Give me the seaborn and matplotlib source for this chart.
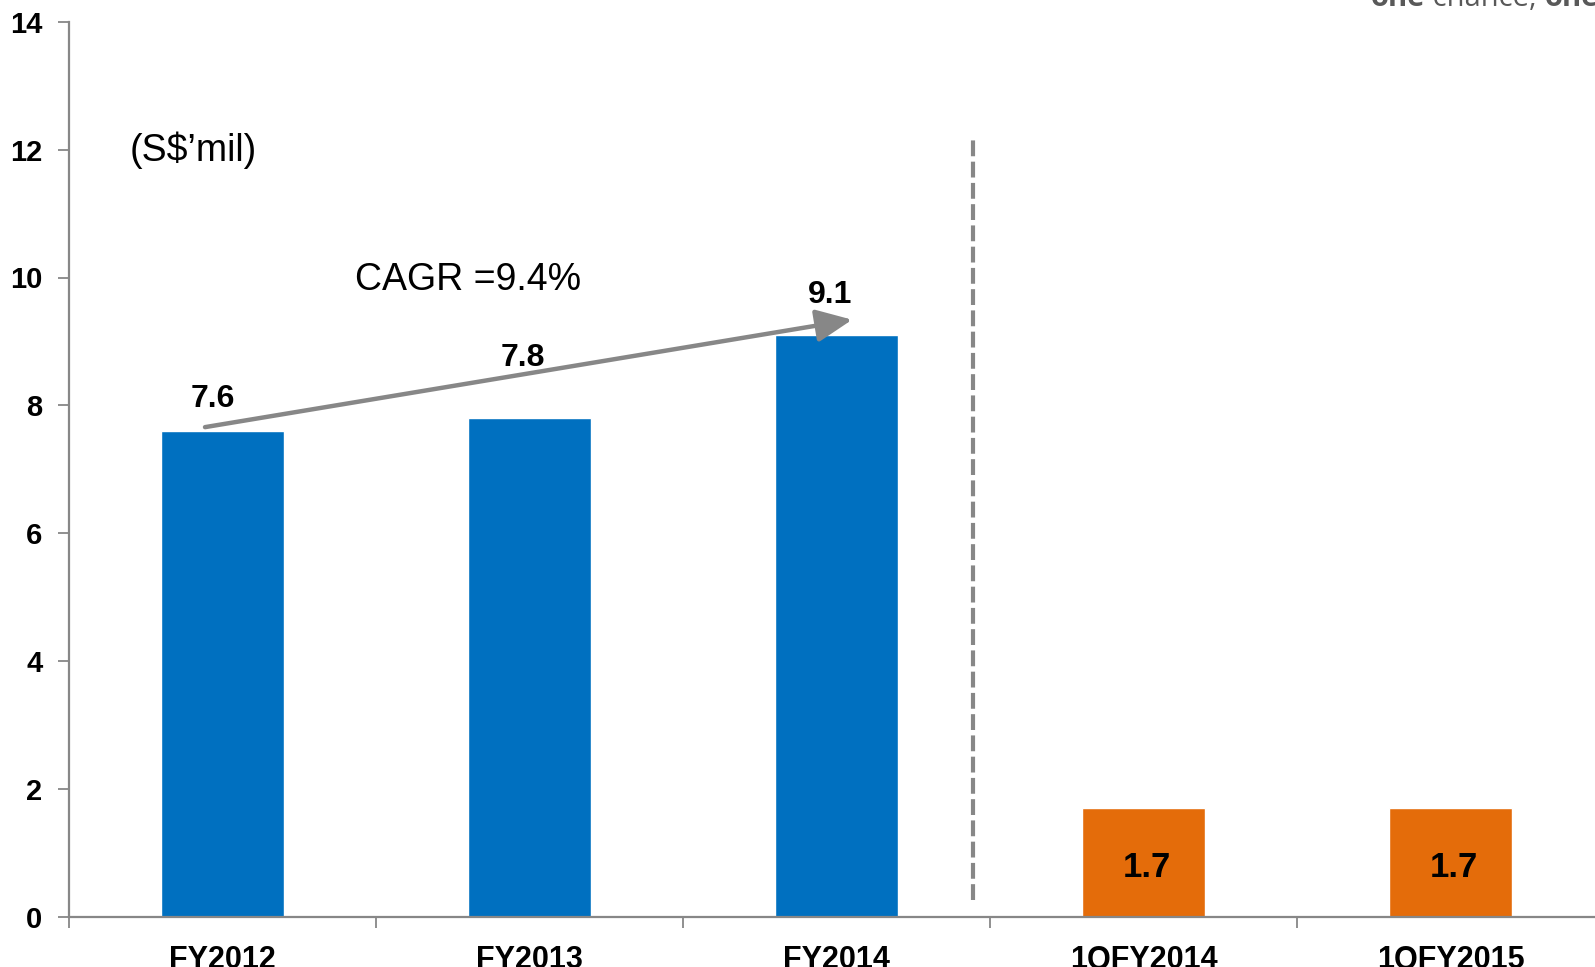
import matplotlib
matplotlib.use("Agg")
import matplotlib.pyplot as plt
import seaborn as sns
import pandas as pd
from matplotlib.patches import FancyArrowPatch

# ---- data ----
categories = ["FY2012", "FY2013", "FY2014", "1QFY2014", "1QFY2015"]
values = [7.6, 7.8, 9.1, 1.7, 1.7]
periods = ["Annual", "Annual", "Annual", "Quarter", "Quarter"]
value_labels = ["7.6", "7.8", "9.1", "1.7", "1.7"]
y_ticks = [0, 2, 4, 6, 8, 10, 12, 14]

# label placement (data units, relative to each bar)
label_dx = [-0.03, -0.02, -0.02, 0.01, 0.01]
label_y = [8.10, 8.74, 9.73, 0.78, 0.78]
label_size = [23, 23, 23, 25, 25]

BLUE = "#0070C0"
ORANGE = "#E46C0A"
GRAY = "#878787"

sns.set_theme(style="white")
plt.rcParams["font.family"] = ["Liberation Sans", "DejaVu Sans"]

df = pd.DataFrame({"category": categories, "value": values, "period": periods})

fig = plt.figure(figsize=(15.95, 9.67), dpi=100)
ax = fig.add_axes([69 / 1595, 50 / 967, 1535 / 1595, (917 - 21.7) / 967])

sns.barplot(data=df, x="category", y="value", hue="period",
            palette={"Annual": BLUE, "Quarter": ORANGE},
            width=0.4, dodge=False, legend=False, saturation=1, ax=ax)

ax.set_xlim(-0.5, 4.5)
ax.set_ylim(0, 14)
ax.set_xlabel("")
ax.set_ylabel("")

# spines
for s in ["top", "right"]:
    ax.spines[s].set_visible(False)
for s in ["left", "bottom"]:
    ax.spines[s].set_color(GRAY)
    ax.spines[s].set_linewidth(1.6)

# y ticks
ax.set_yticks(y_ticks)
ax.set_yticklabels([str(t) for t in y_ticks], fontsize=21, fontweight="bold", color="black")
ax.tick_params(axis="y", direction="out", length=8, width=1.3, color=GRAY, pad=11, left=True)

# x ticks: labels at centers, tick marks at boundaries
ax.set_xticks(range(len(categories)))
ax.set_xticklabels(categories, fontsize=22, fontweight="bold", color="black")
ax.tick_params(axis="x", which="major", length=0, pad=20)
ax.set_xticks([i + 0.5 for i in range(-1, len(categories))], minor=True)
ax.tick_params(axis="x", which="minor", direction="out", length=8, width=1.3,
               color=GRAY, bottom=True)
ax.grid(False)

# value labels
for i, (lab, dx, ly, fs) in enumerate(zip(value_labels, label_dx, label_y, label_size)):
    ax.text(i + dx, ly, lab, ha="center", va="center", fontsize=fs,
            fontweight="bold", color="black")

# CAGR arrow
arrow = FancyArrowPatch((-0.057, 7.66), (2.051, 9.34),
                        arrowstyle="-|>,head_length=1.1,head_width=0.5",
                        mutation_scale=20, color=GRAY, linewidth=3.2,
                        shrinkA=0, shrinkB=0, zorder=5)
ax.add_patch(arrow)
ax.text(0.80, 9.96, "CAGR =9.4%", ha="center", va="center", fontsize=27, color="black")

# unit label
ax.text(-0.096, 11.99, "(S$\u2019mil)", ha="center", va="center", fontsize=27, color="black")

# dashed separator
ax.plot([2.444, 2.444], [0.27, 12.18], color=GRAY, linewidth=3.0,
        linestyle=(0, (3.8, 1.3)), solid_capstyle="butt", dash_capstyle="butt")

# cut-off text at the top right
fig.canvas.draw()
renderer = fig.canvas.get_renderer()
x0 = 1371 / 1595
yb = 1 - 6 / 967
pieces = [("one", "bold"), (" chance, ", "normal"), ("one", "bold")]
for txt, w in pieces:
    t = fig.text(x0, yb, txt, fontsize=21, fontweight=w, color="#595959",
                 family=["Open Sans", "DejaVu Sans"], va="baseline", ha="left")
    bb = t.get_window_extent(renderer=renderer)
    x0 += bb.width / fig.bbox.width

fig.savefig("out.png", dpi=100)
